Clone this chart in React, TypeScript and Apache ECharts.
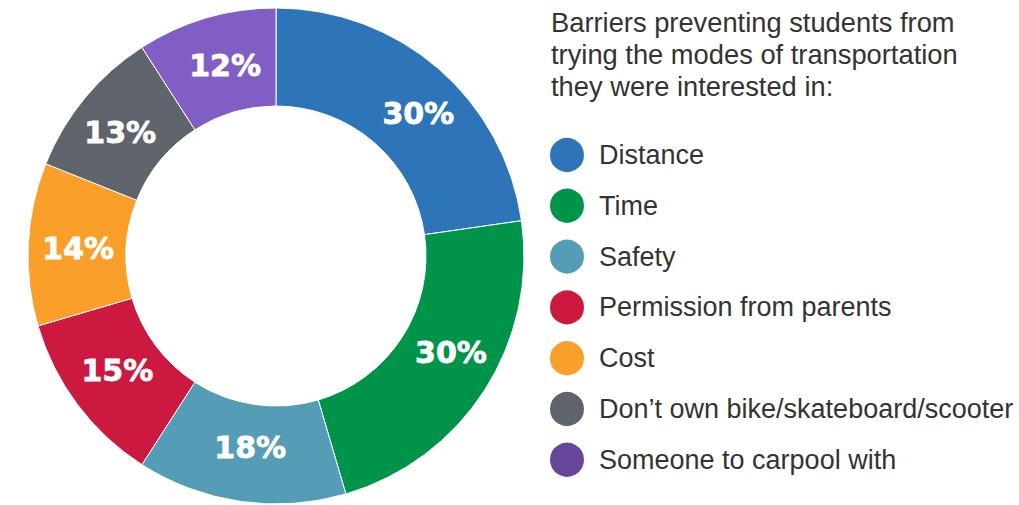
import React, { useEffect, useRef } from "react";
import * as echarts from "echarts";

const categories = [
  "Distance",
  "Time",
  "Safety",
  "Permission from parents",
  "Cost",
  "Don\u2019t own bike/skateboard/scooter",
  "Someone to carpool with",
];
const values = [30, 30, 18, 15, 14, 13, 12];
const sliceColors = ["#2E74B8", "#00944A", "#559CB6", "#CC1940", "#F99F2A", "#5E636C", "#815EC5"];
const legendColors = ["#2E74B8", "#00944A", "#559CB6", "#CC1940", "#F99F2A", "#5E636C", "#66479C"];
const labelShifts = [
  [10, 10],
  [5, -13],
  [3, -8],
  [3, -7],
  [4, 2],
  [0, 5],
  [6, 3],
];
const titleLines = [
  "Barriers preventing students from",
  "trying the modes of transportation",
  "they were interested in:",
];

const FONT = "'Liberation Sans', Arial, Helvetica, sans-serif";

export default function App() {
  const ref = useRef<HTMLDivElement>(null);
  useEffect(() => {
    if (!ref.current) return;
    const chart = echarts.init(ref.current, undefined, { renderer: "svg" });
    chart.setOption({
      animation: false,
      backgroundColor: "#ffffff",
      title: {
        text: titleLines.join("\n"),
        left: 546,
        top: 1,
        textStyle: {
          fontFamily: FONT,
          fontSize: 27.3,
          fontWeight: "normal",
          color: "#333333",
          lineHeight: 32,
        },
      },
      legend: {
        orient: "vertical",
        left: 543,
        top: 131,
        height: 370,
        icon: "circle",
        itemWidth: 36,
        itemHeight: 36,
        itemGap: 12.8,
        selectedMode: false,
        data: categories.map((c, i) => ({ name: c, itemStyle: { color: legendColors[i] } })),
        textStyle: {
          fontFamily: FONT,
          fontSize: 27,
          color: "#333333",
          padding: [0, 0, 0, 9],
        },
      },
      series: [
        {
          type: "pie",
          center: [276, 256],
          radius: [150, 248],
          startAngle: 90,
          clockwise: true,
          avoidLabelOverlap: false,
          itemStyle: { borderColor: "#ffffff", borderWidth: 1 },
          label: {
            show: true,
            position: "inside",
            formatter: "{c}%",
            color: "#ffffff",
            fontFamily: "'DejaVu Sans', sans-serif",
            fontWeight: "bold",
            fontSize: 30,
            textBorderColor: "#ffffff",
            textBorderWidth: 0.8,
          },
          labelLine: { show: false },
          emphasis: { disabled: true },
          data: categories.map((c, i) => ({
            name: c,
            value: values[i],
            itemStyle: { color: sliceColors[i] },
            label: { offset: labelShifts[i] },
          })),
        },
      ],
    });
    return () => chart.dispose();
  }, []);
  return (
    <div
      ref={ref}
      style={{ position: "fixed", left: 0, top: 0, width: 1019, height: 505 }}
    />
  );
}
